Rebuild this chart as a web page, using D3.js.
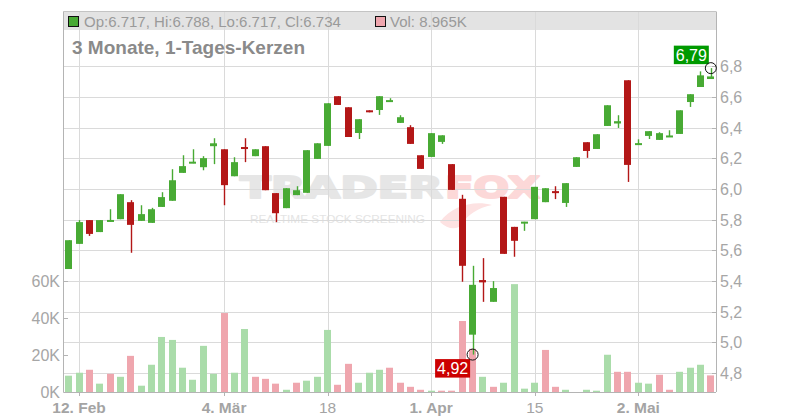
<!DOCTYPE html>
<html><head><meta charset="utf-8">
<script src="https://cdn.jsdelivr.net/npm/d3@7"></script>
<style>html,body{margin:0;padding:0;background:#fff}svg{display:block;font-family:"Liberation Sans",Arial,sans-serif}</style>
</head><body><svg id="c" width="800" height="420"></svg>
<script>
const opens  = [5.478,5.642,5.797,5.719,5.788,5.803,5.914,5.792,5.779,5.883,5.923,6.105,6.168,6.142,6.279,6.259,6.083,6.272,6.214,6.279,5.973,5.875,5.960,5.975,6.196,6.281,6.605,6.533,6.365,6.513,6.515,6.567,6.431,6.403,6.220,6.209,6.307,6.162,5.936,5.050,5.406,5.264,5.949,5.753,5.775,5.803,5.914,5.986,5.909,6.144,6.305,6.261,6.411,6.427,6.709,6.287,6.346,6.320,6.339,6.359,6.567,6.665,6.717];
const highs  = [5.666,5.797,5.797,5.797,5.868,5.966,5.927,5.894,5.877,5.979,6.129,6.220,6.259,6.214,6.331,6.259,6.207,6.331,6.259,6.279,5.973,6.005,6.018,6.253,6.298,6.559,6.605,6.533,6.455,6.513,6.605,6.592,6.481,6.416,6.220,6.364,6.350,6.162,5.962,5.499,5.549,5.399,5.949,5.753,5.786,6.014,6.005,6.018,6.038,6.207,6.305,6.357,6.546,6.481,6.709,6.324,6.377,6.370,6.383,6.513,6.618,6.767,6.788];
const lows   = [5.478,5.642,5.694,5.719,5.788,5.803,5.584,5.792,5.779,5.883,5.923,6.105,6.168,6.122,6.162,5.894,6.083,6.175,6.214,5.992,5.784,5.875,5.960,5.975,6.196,6.281,6.548,6.339,6.326,6.500,6.483,6.567,6.431,6.294,6.131,6.209,6.294,5.994,5.395,4.920,5.264,5.264,5.577,5.558,5.727,5.803,5.914,5.934,5.883,6.144,6.203,6.261,6.411,6.398,6.046,6.287,6.326,6.320,6.339,6.359,6.535,6.665,6.717];
const closes = [5.666,5.784,5.707,5.797,5.795,5.966,5.766,5.836,5.868,5.947,6.057,6.149,6.175,6.201,6.298,6.025,6.175,6.262,6.259,5.992,5.842,6.005,5.992,6.253,6.298,6.559,6.548,6.339,6.455,6.500,6.605,6.579,6.468,6.294,6.131,6.364,6.350,5.994,5.499,5.375,5.391,5.354,5.577,5.662,5.786,6.014,6.005,5.973,6.038,6.207,6.248,6.357,6.546,6.442,6.157,6.298,6.377,6.364,6.346,6.513,6.618,6.741,6.734];
const volumesK = [8.8,10.4,12.0,4.5,9.8,8.2,19.5,3.4,14.7,29.7,28.1,13.1,6.6,24.9,9.8,42.6,10.4,34.0,8.2,7.1,4.5,1.2,5.0,6.1,8.2,33.5,3.9,15.2,5.0,10.4,12.0,13.1,5.0,2.8,1.2,0.7,0.7,0.7,38.3,23.3,8.2,2.8,5.0,58.2,1.8,5.0,22.7,2.8,1.2,0,1.2,0.7,20.1,10.9,10.9,5.0,4.5,9.3,1.2,10.9,13.1,14.7,8.965];
const dateTickIdx = [1,15,25,35,45,55];
const dateTickLabels = ["12. Feb","4. Mär","18","1. Apr","15","2. Mai"];
const dateTickBold = [true,true,false,true,false,true];
const priceTicks = [4.8,5.0,5.2,5.4,5.6,5.8,6.0,6.2,6.4,6.6,6.8];
const volTicks = [0,20,40,60];
const headerText = "Op:6.717, Hi:6.788, Lo:6.717, Cl:6.734";
const volText = "Vol: 8.965K";
const titleText = "3 Monate, 1-Tages-Kerzen";
const maxLabel = "6,79", minLabel = "4,92";

const svg = d3.select("#c");
const L = 63.5, R = 716, T = 11.5, B = 392;
const n = closes.length;
const x = d3.scaleBand().domain(d3.range(n)).range([L, R]).paddingInner(0.32).paddingOuter(0.16);
const y = d3.scaleLinear().domain([4.8, 6.8]).range([373, 66.3]);
const yv = d3.scaleLinear().domain([0, 60]).range([B, 280.8]);
const cx = i => x(i) + x.bandwidth() / 2;
const GREEN = "#48aa34", RED = "#b31717", VGREEN = "#aadcaa", VRED = "#efa6ae";
const fmt = v => d3.format(".1f")(v).replace(".", ",");

// header band
svg.append("rect").attr("x", L).attr("y", T).attr("width", R - L).attr("height", 18.5).attr("fill", "#e3e3e3");

// watermark
const wm = svg.append("g");
wm.append("text").attr("x", 240).attr("y", 198).attr("textLength", 203).attr("lengthAdjust", "spacingAndGlyphs")
  .attr("font-family", "'DejaVu Sans'").attr("font-weight", "bold").attr("font-size", 31)
  .attr("fill", "#e6e6e6").attr("stroke", "#e6e6e6").attr("stroke-width", 2).attr("stroke-linejoin", "round").text("TRADER");
wm.append("text").attr("x", 445).attr("y", 198).attr("textLength", 95).attr("lengthAdjust", "spacingAndGlyphs")
  .attr("font-family", "'DejaVu Sans'").attr("font-weight", "bold").attr("font-size", 31)
  .attr("fill", "#fcd8d8").attr("stroke", "#fcd8d8").attr("stroke-width", 2).attr("stroke-linejoin", "round").text("FOX");
wm.append("path").attr("d", "M440,222 C452,205 475,200 492,205 C478,208 468,214 462,224 C458,230 448,230 440,222 Z").attr("fill", "#fde2e2");
wm.append("text").attr("x", 250).attr("y", 223).attr("textLength", 175).attr("lengthAdjust", "spacingAndGlyphs")
  .attr("font-size", 10.5).attr("fill", "#e4e4e4").text("REALTIME STOCK SCREENING");

// grid
svg.append("g").selectAll("line").data(priceTicks).join("line")
  .attr("x1", L).attr("x2", R).attr("y1", d => Math.round(y(d)) + 0.5).attr("y2", d => Math.round(y(d)) + 0.5)
  .attr("stroke", "#dadada");
svg.append("g").selectAll("line").data(dateTickIdx).join("line")
  .attr("x1", d => Math.round(cx(d)) + 0.5).attr("x2", d => Math.round(cx(d)) + 0.5).attr("y1", T).attr("y2", B)
  .attr("stroke", "#dadada");

// frame
svg.append("line").attr("x1", L).attr("x2", R).attr("y1", T).attr("y2", T).attr("stroke", "#c4c4c4");
svg.append("line").attr("x1", L).attr("x2", L).attr("y1", T).attr("y2", B).attr("stroke", "#b4b4b4");
svg.append("line").attr("x1", R + 0.5).attr("x2", R + 0.5).attr("y1", T).attr("y2", B).attr("stroke", "#b4b4b4");
svg.append("line").attr("x1", L).attr("x2", R).attr("y1", B + 0.5).attr("y2", B + 0.5).attr("stroke", "#b4b4b4");

// header legend
svg.append("rect").attr("x", 68.5).attr("y", 16.5).attr("width", 10).attr("height", 10).attr("fill", GREEN).attr("stroke", "#111");
svg.append("text").attr("x", 84).attr("y", 26.5).attr("font-size", 15).attr("fill", "#9a9a9a").text(headerText);
svg.append("rect").attr("x", 375.5).attr("y", 16.5).attr("width", 10).attr("height", 10).attr("fill", VRED).attr("stroke", "#111");
svg.append("text").attr("x", 390).attr("y", 26.5).attr("font-size", 15).attr("fill", "#9a9a9a").text(volText);
svg.append("text").attr("x", 72).attr("y", 53.5).attr("font-size", 19).attr("font-weight", "bold").attr("fill", "#8a8a8a").text(titleText);

// volume bars
svg.append("g").selectAll("rect").data(volumesK).join("rect")
  .attr("x", (d, i) => Math.round(x(i))).attr("width", Math.round(x.bandwidth()))
  .attr("y", d => yv(d)).attr("height", d => B - yv(d))
  .attr("fill", (d, i) => (i === 0 || closes[i] >= closes[i - 1]) ? VGREEN : VRED);

// candles
const cg = svg.append("g");
d3.range(n).forEach(i => {
  const up = closes[i] >= opens[i];
  const col = up ? GREEN : RED;
  const xc = Math.round(cx(i)) + 0.5;
  if (highs[i] - lows[i] > 0) {
    cg.append("line").attr("x1", xc).attr("x2", xc).attr("y1", y(highs[i])).attr("y2", y(lows[i])).attr("stroke", col).attr("stroke-width", 1.4);
  }
  const top = y(Math.max(opens[i], closes[i])), bot = y(Math.min(opens[i], closes[i]));
  const h = Math.max(2, bot - top);
  cg.append("rect").attr("x", Math.round(x(i))).attr("width", Math.round(x.bandwidth()))
    .attr("y", h > bot - top ? (top + bot) / 2 - h / 2 : top).attr("height", h).attr("fill", col);
});

// right price axis
svg.append("g").selectAll("line").data(priceTicks).join("line")
  .attr("x1", R - 4).attr("x2", R).attr("y1", d => Math.round(y(d)) + 0.5).attr("y2", d => Math.round(y(d)) + 0.5).attr("stroke", "#b4b4b4");
svg.append("g").selectAll("text").data(priceTicks).join("text")
  .attr("x", 720).attr("y", d => y(d) + 6).attr("font-size", 16).attr("fill", "#a6a6a6").text(fmt);

// left volume axis
svg.append("g").selectAll("line").data(volTicks).join("line")
  .attr("x1", L).attr("x2", L + 4.5).attr("y1", d => Math.round(yv(d)) + 0.5).attr("y2", d => Math.round(yv(d)) + 0.5).attr("stroke", "#b4b4b4");
svg.append("g").selectAll("text").data(volTicks).join("text")
  .attr("x", 60).attr("y", d => yv(d) + 6).attr("text-anchor", "end").attr("font-size", 16).attr("fill", "#a6a6a6").text(d => d + "K");

// date axis
svg.append("g").selectAll("line").data(dateTickIdx).join("line")
  .attr("x1", d => Math.round(cx(d)) + 0.5).attr("x2", d => Math.round(cx(d)) + 0.5).attr("y1", B).attr("y2", B + 4).attr("stroke", "#b4b4b4");
svg.append("g").selectAll("text").data(dateTickIdx).join("text")
  .attr("x", d => cx(d)).attr("y", 412.5).attr("text-anchor", "middle").attr("font-size", 15.5)
  .attr("font-weight", (d, i) => dateTickBold[i] ? "bold" : "normal").attr("fill", "#a4a4a4")
  .text((d, i) => dateTickLabels[i]);

// max / min markers
const iMax = d3.maxIndex(highs), iMin = d3.minIndex(lows);
const mx = cx(iMax), my = y(highs[iMax]);
svg.append("rect").attr("x", mx - 37).attr("y", my - 22.5).attr("width", 35).attr("height", 18.5).attr("fill", "#009a00");
svg.append("text").attr("x", mx - 19.5).attr("y", my - 7.5).attr("text-anchor", "middle").attr("font-size", 16).attr("fill", "#fff").text(maxLabel);
svg.append("circle").attr("cx", mx).attr("cy", my).attr("r", 5.5).attr("fill", "none").attr("stroke", "#111");
const nx = cx(iMin), ny = y(lows[iMin]);
svg.append("rect").attr("x", nx - 37.5).attr("y", ny + 4.5).attr("width", 35).attr("height", 18.5).attr("fill", "#cc0000");
svg.append("text").attr("x", nx - 20).attr("y", ny + 19.5).attr("text-anchor", "middle").attr("font-size", 16).attr("fill", "#fff").text(minLabel);
svg.append("circle").attr("cx", nx).attr("cy", ny).attr("r", 5.5).attr("fill", "none").attr("stroke", "#111");
</script></body></html>
